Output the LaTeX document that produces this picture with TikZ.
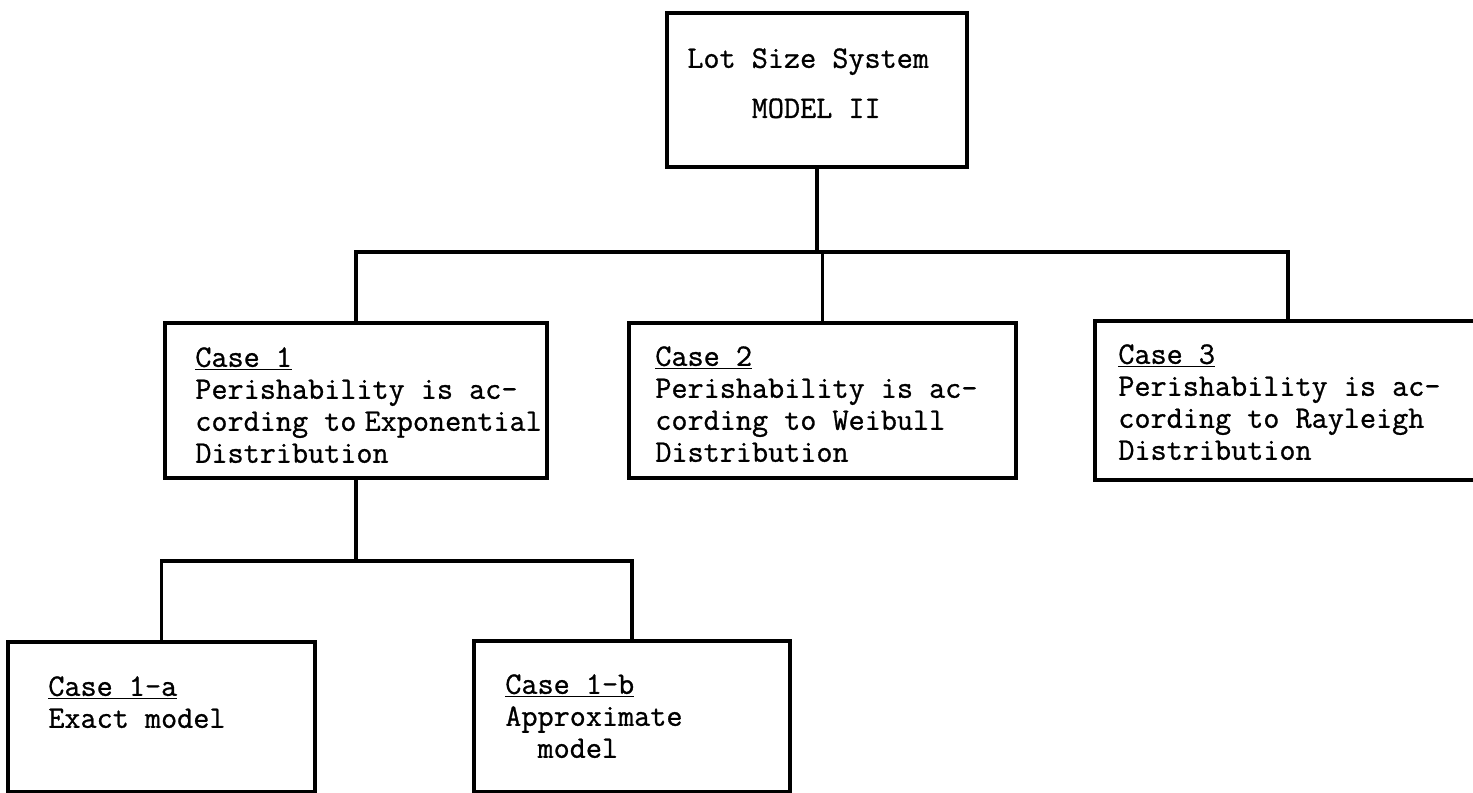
\documentclass[tikz,border=0pt]{standalone}
\usepackage{fontspec}
\usepackage{tikz}
\newfontfamily\typer{Latin Modern Mono}[FakeBold=0.9]

\tikzset{
  casebox/.style={draw,line width=1.8pt,rectangle,anchor=north west,inner sep=0pt,outer sep=0pt},
  casetext/.style={anchor=north west,align=left,inner sep=0pt,
    font=\typer\fontsize{17.8pt}{18.2pt}\selectfont},
  link/.style={line width=1.8pt}
}

\begin{document}
\begin{tikzpicture}[x=0.02cm,y=-0.02cm]
\fill[white] (0,0) rectangle (1473,793);
\useasboundingbox (0,0) rectangle (1473,793);
% boxes: north west corner in px, size in cm
\node[casebox,minimum width=6.00cm,minimum height=3.08cm] (top) at (667,13) {};
\node[casebox,minimum width=7.64cm,minimum height=3.10cm] (c1) at (165,323) {};
\node[casebox,minimum width=7.74cm,minimum height=3.10cm] (c2) at (629,323) {};
\node[casebox,minimum width=7.72cm,minimum height=3.18cm] (c3) at (1095,321) {};
\node[casebox,minimum width=6.14cm,minimum height=3.00cm] (c1a) at (8,642) {};
\node[casebox,minimum width=6.32cm,minimum height=3.02cm] (c1b) at (474,641) {};
% texts
\node[casetext] (toptxt) at (687,48) {Lot Size System\\[10.3pt]\phantom{xxxx}MODEL II};
\node[casetext] (c1txt) at (195,347)
  {\underline{Case 1}\\Perishability is ac-\\cording to\hspace{-4.5pt} Exponential\\Distribution};
\node[casetext] (c2txt) at (655,346)
  {\underline{Case 2}\\Perishability is ac-\\cording to Weibull\\Distribution};
\node[casetext] (c3txt) at (1118,344)
  {\underline{Case 3}\\Perishability is ac-\\cording to Rayleigh\\Distribution};
\node[casetext] (c1atxt) at (48,676) {\underline{Case 1-a}\\Exact model};
\node[casetext] (c1btxt) at (505,674) {\underline{Case 1-b}\\Approximate\\\phantom{xx}model};
% tree lines
\draw[link] (top.south) -- ++(0,85) -| (c1.north);
\draw[link] (top.south) -- ++(0,85) -| (c2.north);
\draw[link] (top.south) -- ++(0,85) -| (c3.north);
\draw[link] (c1.south) -- ++(0,83) -| (c1a.north);
\draw[link] (c1.south) -- ++(0,83) -| (c1b.north);
\end{tikzpicture}
\end{document}
